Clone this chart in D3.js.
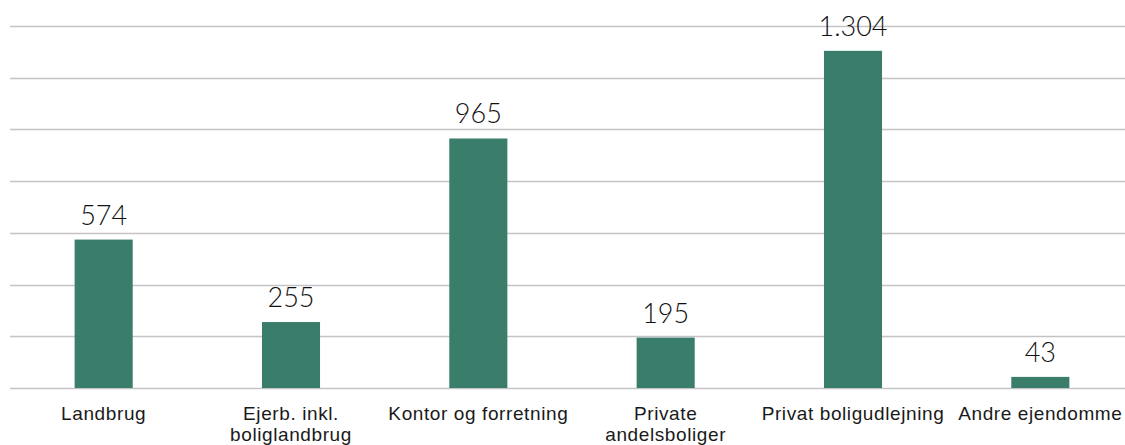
<!DOCTYPE html>
<html>
<head>
<meta charset="utf-8">
<script src="https://cdn.jsdelivr.net/npm/d3@7"></script>
<style>
  body { margin: 0; background: #fff; }
  svg { display: block; font-family: "DejaVu Sans", sans-serif; }
</style>
</head>
<body>
<script>
// data
var categories = ["Landbrug", "Ejerb. inkl. boliglandbrug", "Kontor og forretning", "Private andelsboliger", "Privat boligudlejning", "Andre ejendomme"];
var tickLines = [["Landbrug"], ["Ejerb. inkl.", "boliglandbrug"], ["Kontor og forretning"], ["Private", "andelsboliger"], ["Privat boligudlejning"], ["Andre ejendomme"]];
var values = [574, 255, 965, 195, 1304, 43];
var gridTicks = [0, 200, 400, 600, 800, 1000, 1200, 1400];

var width = 1125, height = 445;
var margin = {top: 26, right: -9, bottom: 57, left: 10};
var w = width - margin.left - margin.right,
    h = height - margin.top - margin.bottom;

var svg = d3.select("body").append("svg")
    .attr("width", width)
    .attr("height", height)
  .append("g")
    .attr("transform", "translate(" + margin.left + "," + margin.top + ")");

var x = d3.scaleBand()
    .domain(d3.range(categories.length))
    .range([0, w])
    .paddingInner(0.69)
    .paddingOuter(0.345);

var y = d3.scaleLinear()
    .domain([0, 1400])
    .range([h, 0]);

// gridlines
svg.append("g")
    .selectAll("line")
    .data(gridTicks)
  .enter().append("line")
    .attr("x1", 0)
    .attr("x2", w)
    .attr("y1", function(d) { return Math.round(y(d)) + 0.5; })
    .attr("y2", function(d) { return Math.round(y(d)) + 0.5; })
    .attr("stroke", "#c4c4c8")
    .attr("stroke-width", 1.3);

// bars
svg.selectAll(".bar")
    .data(values)
  .enter().append("rect")
    .attr("class", "bar")
    .attr("x", function(d, i) { return x(i); })
    .attr("width", x.bandwidth())
    .attr("y", function(d) { return y(d); })
    .attr("height", function(d) { return h - y(d); })
    .attr("fill", "#3a7d6b");

// value labels
svg.selectAll(".val")
    .data(values)
  .enter().append("text")
    .attr("class", "val")
    .attr("x", function(d, i) { return x(i) + x.bandwidth() / 2; })
    .attr("y", function(d) { return y(d) - 15; })
    .attr("text-anchor", "middle")
    .style("font-family", "Lato, 'DejaVu Sans', sans-serif")
    .style("font-weight", 300)
    .style("font-size", "27px")
    .style("fill", "#111")
    .text(function(d) { return d3.format(",")(d).replace(/,/g, "."); });

// x axis labels
var xAxis = svg.append("g")
    .attr("transform", "translate(0," + h + ")")
    .call(d3.axisBottom(x).tickSize(0).tickFormat(""));
xAxis.select(".domain").remove();

xAxis.selectAll(".tick").each(function(d, i) {
  var t = d3.select(this).append("text")
      .attr("text-anchor", "middle")
      .attr("y", 32)
      .style("font-size", "19px")
      .style("letter-spacing", "0.6px")
      .style("fill", "#1a1a1a");
  tickLines[i].forEach(function(line, j) {
    t.append("tspan")
        .attr("x", 0)
        .attr("dy", j === 0 ? 0 : 21)
        .text(line);
  });
});
</script>
</body>
</html>
